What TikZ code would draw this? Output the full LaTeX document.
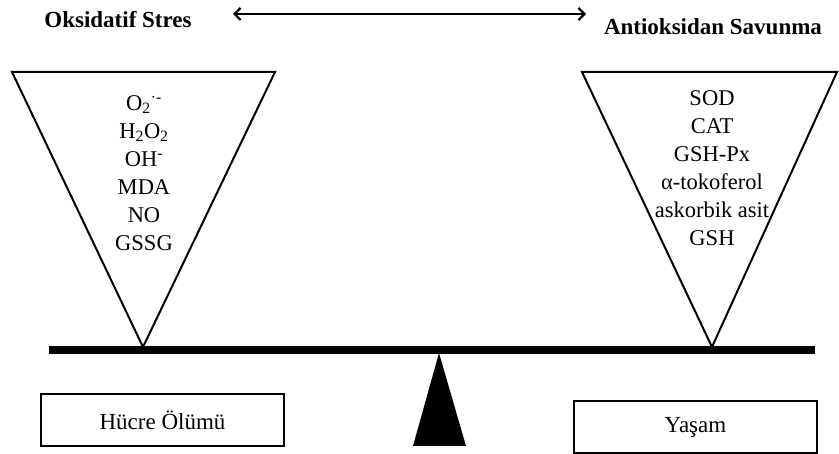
\documentclass[tikz,border=0pt]{standalone}
\usepackage{fontspec}
\setmainfont{Liberation Serif}
\usetikzlibrary{arrows.meta}
\begin{document}
\begin{tikzpicture}[x=1pt,y=-1pt,
  heading/.style={font=\fontsize{23}{26}\bfseries\selectfont, inner sep=0pt},
  listtext/.style={font=\fontsize{22.5}{28}\selectfont, align=center, inner sep=0pt},
  cone/.style={draw=black, line width=2pt, line join=miter},
  outcome/.style={draw=black, line width=1.3pt, minimum width=243pt, minimum height=52pt, inner sep=0pt, font=\fontsize{23}{26}\selectfont},
  balarrow/.style={line width=2.2pt, {Straight Barb[length=6pt,width=12pt]}-{Straight Barb[length=6pt,width=12pt]}}]
\useasboundingbox (0,0) rectangle (839,454);
% headings
\node[heading] (ox) at (118,20) {Oksidatif Stres};
\node[heading] (anti) at (713,27) {Antioksidan Savunma};
\coordinate (al) at (233,14);
\coordinate (ar) at (586,14);
\draw[balarrow] (al) -- (ar);
% left cone
\coordinate (l1) at (12,72);
\coordinate (l2) at (275,72);
\coordinate (lapex) at (143,347);
\draw[cone] (l1) -- (l2) -- (lapex) -- cycle;
% right cone
\coordinate (r1) at (582,72);
\coordinate (r2) at (837,72);
\coordinate (rapex) at (712,347);
\draw[cone] (r1) -- (r2) -- (rapex) -- cycle;
% texts
\node[listtext, anchor=north] (ltext) at (144,95) {O\textsubscript{2}\textsuperscript{·-}\\H\textsubscript{2}O\textsubscript{2}\\OH\textsuperscript{-}\\MDA\\NO\\GSSG};
\node[listtext, anchor=north] (rtext) at (712,90) {SOD\\CAT\\GSH-Px\\α-tokoferol\\askorbik asit\\GSH};
% beam and fulcrum
\fill[black] (49,346) rectangle (815,354);
\coordinate (fa) at (439,353);
\coordinate (fb) at (413,446);
\coordinate (fc) at (466,446);
\fill[black] (fa) -- (fb) -- (fc) -- cycle;
% outcome boxes
\node[outcome] (death) at (162.5,420) {Hücre Ölümü};
\node[outcome] (life) at (695.5,427) {Yaşam};
\end{tikzpicture}
\end{document}
